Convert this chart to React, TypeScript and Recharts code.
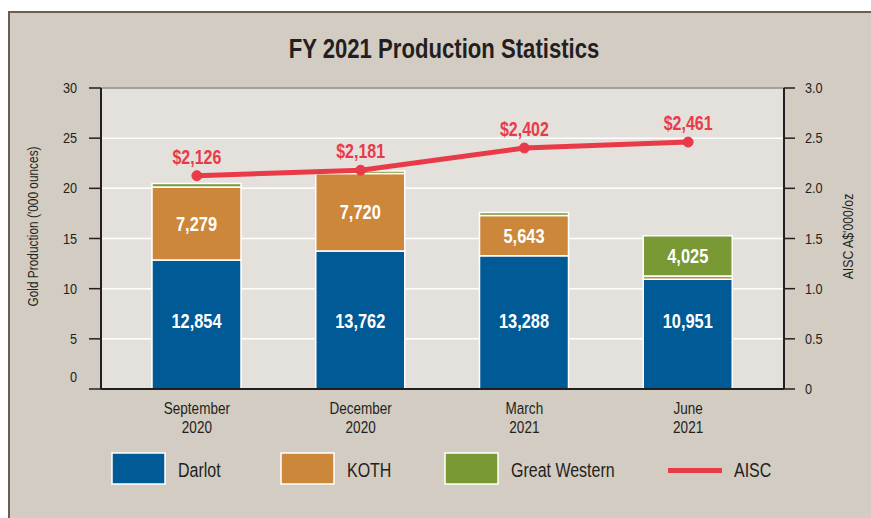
import React from 'react';
import { ComposedChart, Bar, Line, XAxis, YAxis, CartesianGrid, LabelList, ReferenceLine } from 'recharts';

const quarterLine1 = ['September', 'December', 'March', 'June'];
const quarterLine2 = ['2020', '2020', '2021', '2021'];
const darlot = [12.854, 13.762, 13.288, 10.951];
const koth = [7.279, 7.72, 4.0, 0.3];
const greatWestern = [0.35, 0.25, 0.3, 4.025];
const darlotLabels = ['12,854', '13,762', '13,288', '10,951'];
const kothLabels = ['7,279', '7,720', '5,643', ''];
const gwLabels = ['', '', '', '4,025'];
const aisc = [2.126, 2.181, 2.402, 2.461];
const leftTicks = [0, 5, 10, 15, 20, 25, 30];
const rightTicks = [0, 0.5, 1, 1.5, 2, 2.5, 3];
const seriesNames = ['Darlot', 'KOTH', 'Great Western', 'AISC'];

const C_DARLOT = '#005a96';
const C_KOTH = '#cd873b';
const C_GW = '#789934';
const C_AISC = '#e93a48';
const TXT = '#231f20';
const FONT = "'Liberation Sans', Arial, sans-serif";
const SX = 0.82;

const data = quarterLine1.map((q, i) => ({
  q: q + ' ' + quarterLine2[i],
  l1: q,
  l2: quarterLine2[i],
  darlot: darlot[i],
  koth: koth[i],
  gw: greatWestern[i],
  aisc: aisc[i],
  dl: darlotLabels[i],
  kl: kothLabels[i],
  gl: gwLabels[i],
}));

const fmtMoney = (v: number) => '$' + Math.round(v * 1000).toLocaleString('en-US');

// Narrow text: Liberation Sans squeezed horizontally
const NText = (p: any) => {
  const { x, y, rotate = 0, anchor = 'start', size = 14, weight = 'normal', fill = TXT, dy = 0, children } = p;
  return (
    <text
      transform={`translate(${x} ${y}) rotate(${rotate}) scale(${SX} 1)`}
      x={0}
      y={0}
      dy={dy}
      textAnchor={anchor}
      fill={fill}
      fontFamily={FONT}
      fontSize={size}
      fontWeight={weight}
    >
      {children}
    </text>
  );
};

const XTick = (props: any) => {
  const { x, y, payload, index } = props;
  const row = data[index] ?? data.find((d) => d.q === payload.value);
  return (
    <g>
      <NText x={x} y={y + 25} anchor="middle" size={16.5}>{row ? row.l1 : ''}</NText>
      <NText x={x} y={y + 44} anchor="middle" size={16.5}>{row ? row.l2 : ''}</NText>
    </g>
  );
};

const LeftTick = (props: any) => {
  const { x, y, payload } = props;
  const shift = payload.value === 0 ? -12 : 0;
  return (
    <NText x={x} y={y + shift + 5} anchor="end" size={15.5}>
      {payload.value}
    </NText>
  );
};

const RightTick = (props: any) => {
  const { x, y, payload } = props;
  const v = payload.value;
  return (
    <NText x={x} y={y + 5} anchor="start" size={15.5}>
      {v === 0 ? '0' : v.toFixed(1)}
    </NText>
  );
};

const makeLabel = (mode: 'bottom' | 'center') => (props: any) => {
  const vb = props.viewBox || props;
  const { x, y, width, height } = vb;
  const value = props.value;
  if (!value) return null;
  const cy = mode === 'bottom' ? y + height - 68 : y + height / 2;
  return (
    <NText x={x + width / 2} y={cy + 7} anchor="middle" size={20} weight="bold" fill="#ffffff">
      {value}
    </NText>
  );
};

const AiscLabel = (props: any) => {
  const vb = props.viewBox || props;
  const { x, y } = vb;
  return (
    <NText x={x} y={y - 12} anchor="middle" size={19.5} weight="bold" fill={C_AISC}>
      {fmtMoney(props.value)}
    </NText>
  );
};

const LeftAxisLabel = (props: any) => {
  const vb = props.viewBox;
  const cx = vb.x + 38;
  const cy = vb.y + vb.height / 2 - 12;
  return (
    <NText x={cx} y={cy} rotate={-90} anchor="middle" size={14.5}>
      Gold Production ('000 ounces)
    </NText>
  );
};

const RightAxisLabel = (props: any) => {
  const vb = props.viewBox;
  const cx = vb.x + 69;
  const cy = vb.y + vb.height / 2 - 2;
  return (
    <NText x={cx} y={cy} rotate={-90} anchor="middle" size={15}>
      AISC A$'000/oz
    </NText>
  );
};

const legendColors = [C_DARLOT, C_KOTH, C_GW, C_AISC];
const legendX = [112, 281, 445, 668];

export default function App() {
  return (
    <div style={{ position: 'absolute', left: 0, top: 0, width: 871, height: 518, background: '#ffffff', overflow: 'hidden' }}>
      <div style={{ position: 'absolute', left: 8, top: 11, width: 880, height: 520, background: '#d3ccc2', borderLeft: '2px solid #6b5d52', borderTop: '2px solid #6b5d52' }} />
      <div style={{ position: 'absolute', left: 0, top: 0 }}>
        <ComposedChart width={871} height={518} data={data} margin={{ top: 88, right: 0, bottom: 0, left: 0 }} barSize={89}>
          <CartesianGrid vertical={false} stroke="#ffffff" strokeWidth={1.5} fill="#e4e1dc" yAxisId="left" />
          <XAxis
            dataKey="q"
            height={129}
            padding={{ left: 14, right: 14 }}
            tickSize={0}
            tickMargin={0}
            tickLine={false}
            axisLine={{ stroke: TXT, strokeWidth: 2 }}
            tick={<XTick />}
            interval={0}
          />
          <YAxis
            yAxisId="left"
            orientation="left"
            width={101}
            domain={[0, 30]}
            ticks={leftTicks}
            interval={0}
            tickSize={12}
            tickMargin={12}
            tickLine={{ stroke: TXT, strokeWidth: 1.5 }}
            axisLine={{ stroke: TXT, strokeWidth: 2 }}
            tick={<LeftTick />}
            label={<LeftAxisLabel />}
          />
          <YAxis
            yAxisId="right"
            orientation="right"
            width={87}
            domain={[0, 3]}
            ticks={rightTicks}
            interval={0}
            tickSize={11}
            tickMargin={10}
            tickLine={{ stroke: TXT, strokeWidth: 1.5 }}
            axisLine={{ stroke: TXT, strokeWidth: 2 }}
            tick={<RightTick />}
            label={<RightAxisLabel />}
          />
          <ReferenceLine yAxisId="left" y={30} stroke="#4a4a4a" strokeWidth={1.2} />
          <Bar yAxisId="left" dataKey="darlot" stackId="s" fill={C_DARLOT} stroke="#ffffff" strokeWidth={1.5} isAnimationActive={false}>
            <LabelList dataKey="dl" content={makeLabel('bottom')} />
          </Bar>
          <Bar yAxisId="left" dataKey="koth" stackId="s" fill={C_KOTH} stroke="#ffffff" strokeWidth={1.5} isAnimationActive={false}>
            <LabelList dataKey="kl" content={makeLabel('center')} />
          </Bar>
          <Bar yAxisId="left" dataKey="gw" stackId="s" fill={C_GW} stroke="#ffffff" strokeWidth={1.5} isAnimationActive={false}>
            <LabelList dataKey="gl" content={makeLabel('center')} />
          </Bar>
          <Line
            yAxisId="right"
            dataKey="aisc"
            stroke={C_AISC}
            strokeWidth={5}
            dot={{ r: 5, fill: C_AISC, stroke: C_AISC, strokeWidth: 1 }}
            activeDot={false}
            isAnimationActive={false}
          >
            <LabelList dataKey="aisc" content={<AiscLabel />} />
          </Line>
        </ComposedChart>
      </div>
      <svg width={871} height={518} style={{ position: 'absolute', left: 0, top: 0, pointerEvents: 'none' }}>
        <NText x={444} y={58} anchor="middle" size={27} weight="bold">FY 2021 Production Statistics</NText>
        {seriesNames.map((name, i) => (
          <g key={name}>
            {i < 3 ? (
              <rect x={legendX[i]} y={453} width={53} height={31} fill={legendColors[i]} stroke="#ffffff" strokeWidth={1.5} />
            ) : (
              <rect x={legendX[i]} y={468} width={54} height={5} fill={legendColors[i]} />
            )}
            <NText x={legendX[i] + 66} y={477} size={19.5}>
              {name}
            </NText>
          </g>
        ))}
      </svg>
    </div>
  );
}
